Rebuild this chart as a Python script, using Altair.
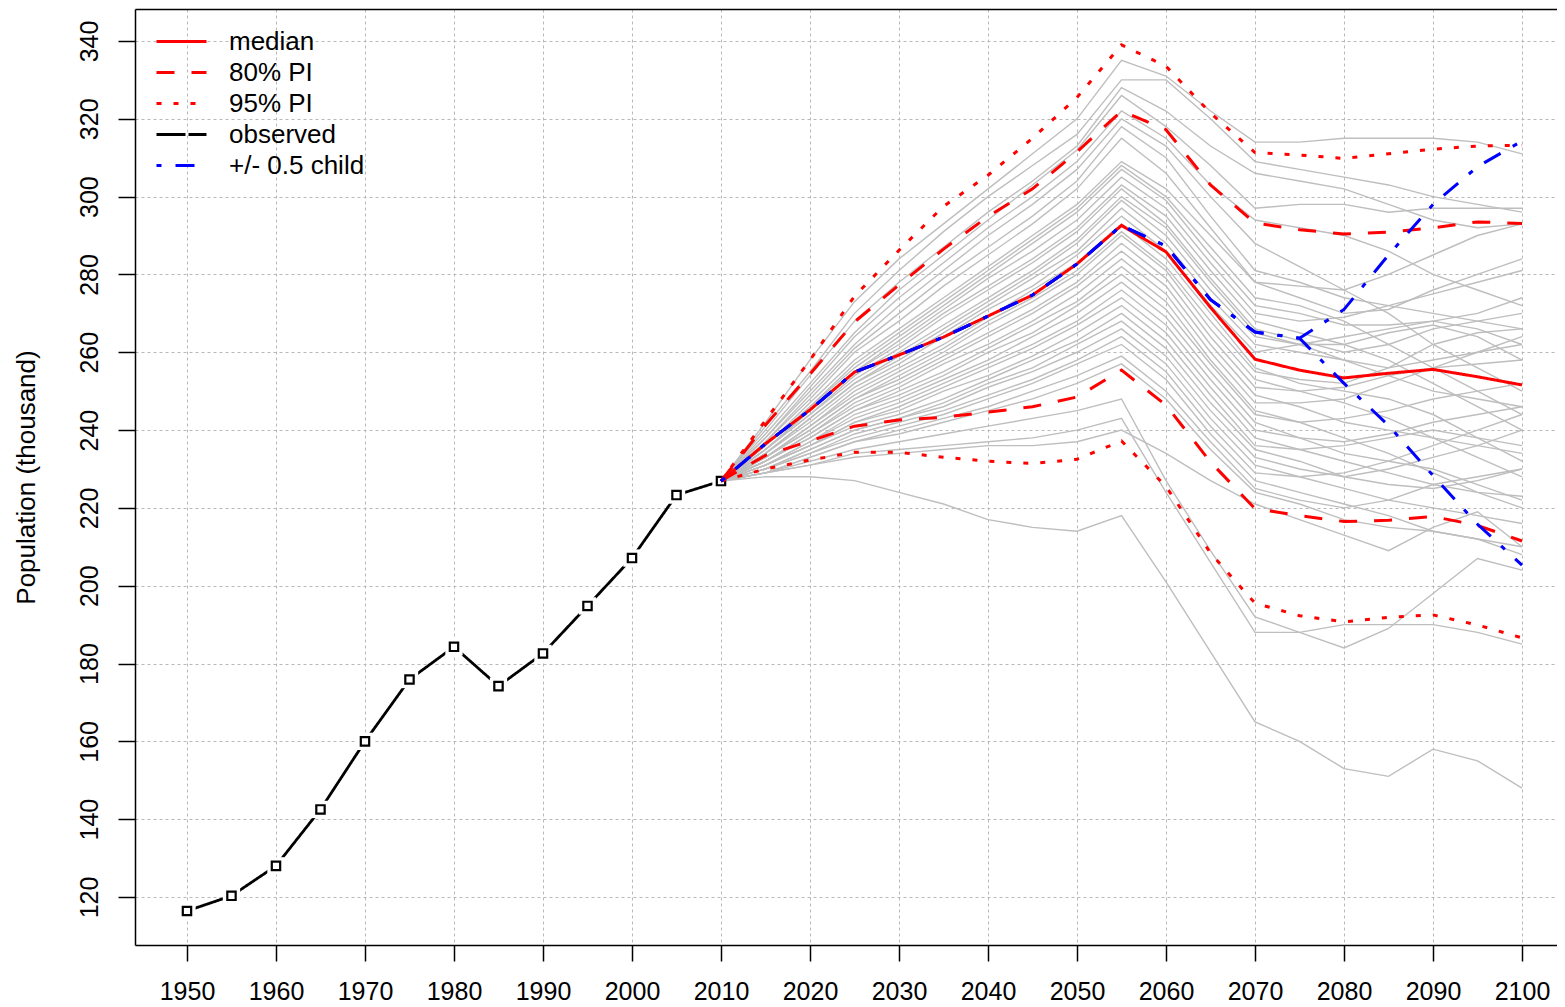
import altair as alt
import pandas as pd

FONT = "Liberation Sans"

# ---------------- data ----------------
obs_years = [1950, 1955, 1960, 1965, 1970, 1975, 1980, 1985, 1990, 1995, 2000, 2005, 2010]
obs_pop = [116.4, 120.3, 128.0, 142.5, 160.0, 175.9, 184.3, 174.2, 182.6, 194.8, 207.1, 223.3, 226.9]

proj_years = [2010, 2015, 2020, 2025, 2030, 2035, 2040, 2045, 2050, 2055,
              2060, 2065, 2070, 2075, 2080, 2085, 2090, 2095, 2100]

median = [226.9, 236.5, 245.2, 254.9, 259.3, 263.9, 269.3, 274.7, 282.7, 292.6,
          285.8, 271.5, 258.2, 255.4, 253.4, 254.6, 255.6, 253.7, 251.6]
pi80_high = [226.9, 241.3, 254.4, 267.8, 277.3, 286.5, 294.9, 302.0, 311.5, 322.0,
             317.2, 303.0, 293.2, 291.5, 290.4, 290.9, 292.0, 293.5, 293.1]
pi80_low = [226.9, 233.5, 237.2, 241.0, 242.6, 243.3, 244.6, 246.0, 248.5, 255.4,
            246.4, 231.8, 219.8, 218.0, 216.5, 216.8, 217.8, 215.5, 211.5]
pi95_high = [226.9, 242.5, 258.0, 274.4, 286.2, 297.5, 305.5, 315.0, 325.5, 339.0,
             333.5, 321.5, 311.3, 310.7, 309.8, 311.0, 312.2, 313.0, 313.2]
pi95_low = [226.9, 230.0, 232.3, 234.3, 234.3, 233.0, 232.0, 231.4, 232.5, 237.2,
            225.5, 208.4, 195.5, 192.3, 190.7, 191.9, 192.5, 189.9, 186.6]
child_plus = [226.9, 236.5, 245.2, 254.9, 259.3, 263.9, 269.3, 274.7, 282.7, 292.6,
              287.3, 273.5, 265.2, 263.6, 271.0, 285.0, 298.0, 307.7, 314.3]
child_minus = [226.9, 236.5, 245.2, 254.9, 259.3, 263.9, 269.3, 274.7, 282.7, 292.6,
               287.3, 273.5, 265.2, 263.6, 252.0, 241.2, 228.3, 215.8, 205.3]

trajectories = [
    [226.9, 242, 258, 273, 284, 293, 302, 311, 320, 335, 331, 322, 314, 314, 315, 315, 315, 314, 311],
    [226.9, 241, 255, 270, 281, 291, 300, 308, 316, 330, 330, 320, 309, 307, 305, 303, 300, 298, 296],
    [226.9, 240, 254, 268, 278, 287, 296, 304, 313, 328, 322, 313, 306, 304, 302, 298, 294, 292, 293],
    [226.9, 239, 252, 265, 276, 285, 294, 303, 312, 326, 318, 308, 297, 298, 298, 296, 297, 297, 297],
    [226.9, 238, 251, 264, 274, 283, 292, 300, 309, 322, 315, 303, 294, 292, 290, 286, 280, 276, 272],
    [226.9, 238, 250, 262, 272, 281, 290, 298, 307, 320, 313, 300, 288, 282, 276, 270, 262, 256, 250],
    [226.9, 237, 249, 261, 270, 279, 287, 295, 304, 318, 310, 295, 281, 278, 274, 272, 270, 268, 266],
    [226.9, 237, 248, 260, 268, 277, 285, 293, 302, 315, 306, 292, 278, 274, 270, 271, 276, 280, 284],
    [226.9, 236, 247, 258, 266, 274, 282, 290, 298, 309, 302, 290, 278, 277, 276, 280, 285, 290, 293],
    [226.9, 236, 246, 257, 265, 273, 281, 289, 297, 308, 300, 287, 274, 272, 268, 262, 256, 250, 244],
    [226.9, 236, 246, 256, 264, 272, 280, 288, 296, 307, 299, 285, 272, 270, 267, 267, 268, 266, 262],
    [226.9, 235, 245, 255, 263, 271, 279, 286, 294, 305, 297, 283, 270, 268, 269, 272, 275, 278, 281],
    [226.9, 235, 245, 255, 262, 270, 277, 284, 292, 303, 295, 281, 268, 265, 262, 258, 252, 246, 240],
    [226.9, 235, 244, 254, 261, 269, 276, 283, 291, 302, 293, 279, 266, 263, 260, 262, 266, 268, 270],
    [226.9, 235, 244, 253, 260, 267, 274, 281, 289, 300, 292, 278, 265, 262, 258, 254, 250, 248, 246],
    [226.9, 234, 243, 252, 259, 266, 273, 280, 288, 299, 290, 276, 264, 262, 262, 265, 267, 264, 258],
    [226.9, 234, 243, 252, 258, 265, 272, 279, 286, 297, 288, 274, 262, 260, 258, 256, 258, 260, 262],
    [226.9, 234, 242, 251, 257, 264, 271, 277, 285, 295, 286, 272, 260, 262, 264, 266, 268, 270, 274],
    [226.9, 233, 241, 250, 256, 262, 269, 276, 283, 293, 284, 270, 256, 252, 250, 248, 244, 238, 232],
    [226.9, 233, 241, 249, 255, 261, 268, 274, 281, 291, 282, 268, 255, 253, 252, 256, 262, 265, 266],
    [226.9, 233, 240, 248, 254, 260, 267, 273, 280, 290, 281, 266, 253, 250, 247, 243, 238, 233, 228],
    [226.9, 233, 240, 248, 253, 259, 265, 271, 278, 288, 279, 264, 251, 250, 251, 254, 256, 257, 258],
    [226.9, 232, 239, 247, 252, 258, 264, 270, 277, 286, 277, 262, 249, 246, 242, 240, 238, 236, 234],
    [226.9, 232, 239, 246, 251, 257, 262, 268, 275, 284, 275, 260, 247, 247, 248, 252, 256, 260, 264],
    [226.9, 232, 238, 245, 250, 255, 261, 267, 273, 282, 273, 258, 245, 242, 238, 234, 229, 224, 220],
    [226.9, 232, 238, 245, 249, 254, 260, 265, 272, 280, 271, 257, 244, 242, 243, 245, 248, 250, 252],
    [226.9, 231, 237, 244, 248, 253, 258, 264, 270, 278, 269, 255, 242, 238, 234, 232, 230, 226, 222],
    [226.9, 231, 237, 243, 247, 252, 257, 262, 268, 276, 267, 253, 240, 238, 237, 239, 242, 244, 246],
    [226.9, 231, 236, 242, 246, 251, 256, 261, 267, 274, 265, 251, 238, 235, 232, 229, 226, 224, 223],
    [226.9, 231, 236, 242, 245, 250, 254, 259, 265, 272, 263, 249, 236, 235, 236, 238, 240, 238, 236],
    [226.9, 231, 236, 241, 244, 248, 253, 258, 263, 270, 261, 247, 235, 232, 228, 226, 225, 227, 230],
    [226.9, 230, 235, 240, 243, 247, 252, 256, 262, 268, 259, 245, 233, 230, 228, 230, 233, 236, 240],
    [226.9, 230, 235, 240, 243, 246, 251, 255, 260, 266, 257, 243, 231, 228, 225, 222, 220, 218, 216],
    [226.9, 230, 234, 239, 242, 245, 249, 253, 258, 264, 255, 241, 229, 228, 229, 232, 236, 240, 244],
    [226.9, 230, 234, 238, 241, 244, 248, 252, 257, 262, 253, 239, 227, 224, 221, 218, 214, 212, 210],
    [226.9, 229, 233, 237, 240, 243, 246, 250, 254, 259, 250, 237, 225, 222, 220, 222, 226, 228, 230],
    [226.9, 229, 233, 237, 239, 242, 245, 248, 252, 257, 248, 235, 224, 221, 217, 215, 214, 212, 208],
    [226.9, 229, 232, 235, 237, 239, 241, 243, 245, 248, 227, 209, 192, 188, 184, 189, 198, 207, 204],
    [226.9, 229, 231, 234, 235, 236, 237, 238, 240, 243, 224, 206, 188, 188, 190, 190, 190, 188, 185],
    [226.9, 229, 231, 233, 234, 235, 236, 236, 237, 240, 234, 227, 221, 217, 213, 209, 215, 219, 210],
    [226.9, 228, 228, 227, 224, 221, 217, 215, 214, 218, 201, 183, 165, 160, 153, 151, 158, 155, 148],
]

x_ticks = [1950, 1960, 1970, 1980, 1990, 2000, 2010, 2020, 2030, 2040,
           2050, 2060, 2070, 2080, 2090, 2100]
y_ticks = [120, 140, 160, 180, 200, 220, 240, 260, 280, 300, 320, 340]

SERIES = ["median", "80% PI", "95% PI", "observed", "+/- 0.5 child"]
COLORS = ["#FF0000", "#FF0000", "#FF0000", "#000000", "#0000FF"]
DASHES = [[1, 0], [18, 17], [5, 12], [29, 3], [5, 14, 19, 14]]

# ---------------- tables ----------------
gray_df = pd.DataFrame(
    [{"year": y, "pop": v, "traj": i}
     for i, tr in enumerate(trajectories) for y, v in zip(proj_years, tr)]
)


def sdf(name, line, years, vals):
    return pd.DataFrame({"year": years, "pop": vals, "series": name, "line": line})


pi_df = pd.concat([
    sdf("95% PI", "95hi", proj_years, pi95_high),
    sdf("95% PI", "95lo", proj_years, pi95_low),
    sdf("80% PI", "80hi", proj_years, pi80_high),
    sdf("80% PI", "80lo", proj_years, pi80_low),
])
med_df = sdf("median", "med", proj_years, median)
child_df = pd.concat([
    sdf("+/- 0.5 child", "plus", proj_years, child_plus),
    sdf("+/- 0.5 child", "minus", proj_years, child_minus),
])
obs_df = sdf("observed", "obs", obs_years, obs_pop)

# ---------------- scales / axes ----------------
x_scale = alt.Scale(domain=[1944.16, 2103.93], nice=False, zero=False)
y_scale = alt.Scale(domain=[107.66, 348.22], nice=False, zero=False)

grid_kw = dict(grid=True, gridColor="#B8B8B8", gridDash=[3, 3], gridWidth=1)

x_axis = alt.Axis(values=x_ticks, format="d", title=None, **grid_kw,
                  domainColor="black", domainWidth=1.5,
                  tickColor="black", tickWidth=1.5, tickSize=16,
                  labelFont=FONT, labelFontSize=25, labelColor="black",
                  labelPadding=38, labelBaseline="alphabetic",
                  labelFlush=False, labelOverlap=False)
top_axis = alt.Axis(orient="top", labels=False, ticks=False, grid=False,
                    domain=True, domainColor="black", domainWidth=1.5, title=None)
y_axis = alt.Axis(values=y_ticks, format="d", title="Population (thousand)", **grid_kw,
                  domainColor="black", domainWidth=1.5,
                  tickColor="black", tickWidth=1.5, tickSize=17,
                  labelFont=FONT, labelFontSize=25, labelColor="black",
                  labelAngle=270, labelAlign="center", labelBaseline="alphabetic",
                  labelPadding=21, labelFlush=False, labelOverlap=False,
                  titleFont=FONT, titleFontSize=26, titleFontWeight="normal",
                  titleColor="black", titleAngle=270, titleX=-101, titleY=468,
                  titleAlign="center", titleBaseline="alphabetic")

X_none = alt.X("year:Q", scale=x_scale, axis=None)
X_bottom = alt.X("year:Q", scale=x_scale, axis=x_axis)
X_top = alt.X("year:Q", scale=x_scale, axis=top_axis)
Y = alt.Y("pop:Q", scale=y_scale, axis=y_axis)

legend = alt.Legend(title=None, orient="none", legendX=20, legendY=17,
                    symbolType="stroke", symbolSize=2500, symbolStrokeWidth=3,
                    labelFont=FONT, labelFontSize=26, labelColor="black",
                    labelOffset=21, labelLimit=400, rowPadding=0, clipHeight=31,
                    padding=0)
COLOR = alt.Color("series:N", scale=alt.Scale(domain=SERIES, range=COLORS), legend=legend)
DASH = alt.StrokeDash("series:N", scale=alt.Scale(domain=SERIES, range=DASHES), legend=legend)

# ---------------- layers ----------------
obs_line = alt.Chart(obs_df).mark_line(strokeWidth=2.8).encode(
    x=X_none, y=Y, color=COLOR, strokeDash=alt.value([1, 0]))
obs_halo = alt.Chart(obs_df).mark_point(shape="square", filled=True, size=300,
                                        color="white", opacity=1, strokeWidth=0).encode(x=X_none, y=Y)
gray = alt.Chart(gray_df).mark_line(color="#BEBEBE", strokeWidth=1.4).encode(
    x=X_bottom, y=Y, detail="traj:N")
obs_pts = alt.Chart(obs_df).mark_point(shape="square", filled=False, size=70,
                                       color="black", opacity=1, strokeWidth=2.2).encode(x=X_none, y=Y)
pis = alt.Chart(pi_df).mark_line(strokeWidth=3).encode(
    x=X_none, y=Y, color=COLOR, strokeDash=DASH, detail="line:N")
med = alt.Chart(med_df).mark_line(strokeWidth=3).encode(
    x=X_top, y=Y, color=COLOR, strokeDash=DASH)
child = alt.Chart(child_df).mark_line(strokeWidth=3).encode(
    x=X_none, y=Y, color=COLOR, strokeDash=DASH, detail="line:N")

chart = alt.layer(obs_line, obs_halo, gray, obs_pts, pis, med, child).resolve_axis(
    x="independent"
).properties(
    width=1422, height=936,
    padding={"left": 127, "top": 1, "right": 0, "bottom": 58},
    autosize=alt.AutoSizeParams(type="none"),
    background="white",
).configure_view(stroke=None)

chart.save("out.html", embed_options={"renderer": "svg", "actions": False})
